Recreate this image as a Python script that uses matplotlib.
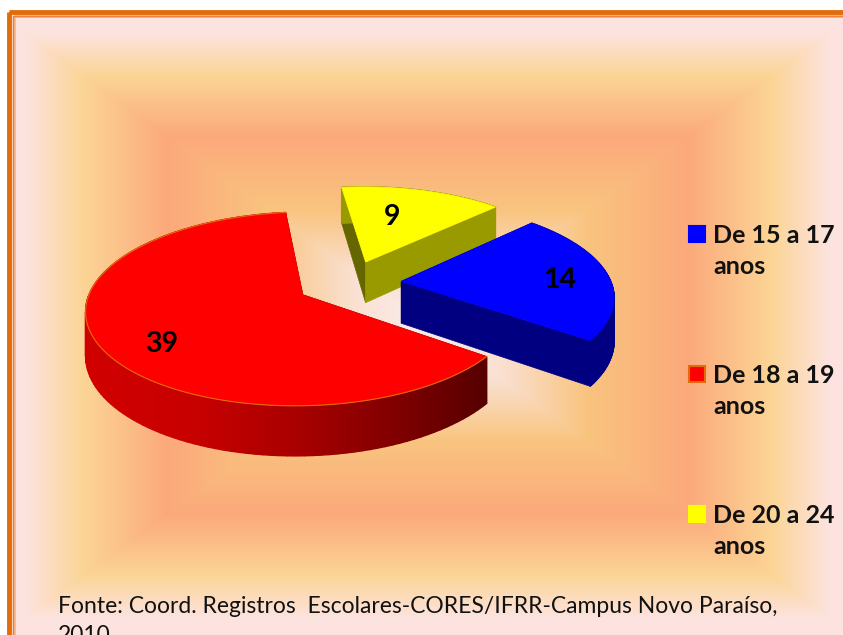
import matplotlib
matplotlib.use('Agg')
import matplotlib.pyplot as plt
import numpy as np
from matplotlib.patches import Polygon, Rectangle

plt.rcParams['font.family'] = ['Lato', 'DejaVu Sans']

categories = ['De 15 a 17\nanos', 'De 18 a 19\nanos', 'De 20 a 24\nanos']
values = [14, 39, 9]
colors = ['#0000FF', '#FF0000', '#FFFF00']
start_face = ['#000060', '#600000', '#666600']
end_face = ['#000080', '#600000', '#999900']
source_text = 'Fonte: Coord. Registros  Escolares-CORES/IFRR-Campus Novo Paraíso,\n2010'

W, H = 843, 635
first_angle = 45.2
explode = 0.25
rx, ry, persp = 210, 91.5, 0.143
cx, cy = 349, 283
depth = 42
label_r = [0.72, 0.68, 0.62]
label_drop = [3, 14, 2]
label_shift = [9, -7, -10]


def project(u, v, drop=0.0):
    w = 1 + persp * v
    return cx + rx * u / w, cy - (ry * v - drop) / w


def background():
    yy, xx = np.mgrid[0:H, 0:W]
    t = np.maximum(np.abs(xx - 427) / 420, np.abs(yy - 325) / 305)
    stops = [0, 0.18, 0.38, 0.62, 0.82, 0.96, 1.05]
    rgb = ['#FBEDEE', '#FAE0D0', '#F9C47F', '#FCA97B', '#FBD596', '#FDE3E0', '#FDE3E0']
    rgb = np.array([matplotlib.colors.to_rgb(c) for c in rgb])
    return np.dstack([np.interp(t, stops, rgb[:, i]) for i in range(3)])


fig = plt.figure(figsize=(W / 100, H / 100), dpi=100)
ax = fig.add_axes([0, 0, 1, 1])
ax.axis('off')

ax.imshow(background(), extent=(0, W, H, 0), aspect='auto', zorder=0)
ax.set_xlim(0, W)
ax.set_ylim(H, 0)

# white margin and double frame
ax.add_patch(Rectangle((0, 0), W, 12, fc='white', ec='none', zorder=1))
ax.add_patch(Rectangle((0, 0), 9, H, fc='white', ec='none', zorder=1))
ax.add_patch(Rectangle((14, 15.5), W + 40, H + 40, fill=False, ec='#F6B98C', lw=2, zorder=1))
ax.add_patch(Rectangle((9, 12), W + 40, H + 40, fill=False, ec='#E36C0A', lw=3.5, joinstyle='round', zorder=1))
ax.add_patch(Rectangle((12.5, 16), W + 40, H + 40, fill=False, ec='#E8843A', lw=1, zorder=1))

angles = np.cumsum([0] + values) / sum(values) * 360 + first_angle
order = [2, 0, 1]  # back to front

for i in order:
    a0, a1 = angles[i], angles[i + 1]
    mid = np.radians((a0 + a1) / 2)
    ou, ov = explode * np.sin(mid), explode * np.cos(mid)
    th = np.radians(np.linspace(a0, a1, 120))
    us = ou + np.sin(th)
    vs = ov + np.cos(th)

    top = [project(ou, ov)] + [project(a, b) for a, b in zip(us, vs)]
    for k, col in ((0, start_face[i]), (-1, end_face[i])):
        face = [project(ou, ov), project(us[k], vs[k]), project(us[k], vs[k], depth), project(ou, ov, depth)]
        ax.add_patch(Polygon(face, fc=col, ec=col, lw=0.5, zorder=2))

    for k in range(len(th) - 1):
        quad = [project(us[k], vs[k]), project(us[k + 1], vs[k + 1]),
                project(us[k + 1], vs[k + 1], depth), project(us[k], vs[k], depth)]
        if i == 1:
            x = quad[0][0]
            shade = np.interp(x, [85, 200, 300, 400, 490], [0.82, 0.78, 0.66, 0.5, 0.33])
            col = (shade, 0, 0)
        else:
            col = end_face[i]
        ax.add_patch(Polygon(quad, fc=col, ec=col, lw=1.0, snap=False, zorder=2))

    ax.add_patch(Polygon(top, fc=colors[i], ec=colors[i], lw=0.5, zorder=2))
    if i == 1:
        ax.plot(*zip(*top[1:]), color='#E36C0A', lw=0.8, zorder=2)

    lx, ly = project(ou + label_r[i] * np.sin(mid), ov + label_r[i] * np.cos(mid), label_drop[i])
    ax.text(lx + label_shift[i], ly, str(values[i]), fontsize=20.5, fontweight='bold', ha='center', va='center',
            color='black', zorder=3)

# legend
for i, y in enumerate([234, 374, 514]):
    ec = '#E36C0A' if i == 1 else colors[i]
    ax.add_patch(Rectangle((689, y - 8), 16, 16, fc=colors[i], ec=ec, lw=1.5, zorder=3))
    ax.text(713, y + 17, categories[i], fontsize=18, fontweight='bold', color='#111111',
            ha='left', va='center', linespacing=1.42, zorder=3)

ax.text(58, 621, source_text, fontsize=16.5, color='#111111', ha='left', va='center', linespacing=1.5, zorder=3)

fig.savefig('out.png', dpi=100)
